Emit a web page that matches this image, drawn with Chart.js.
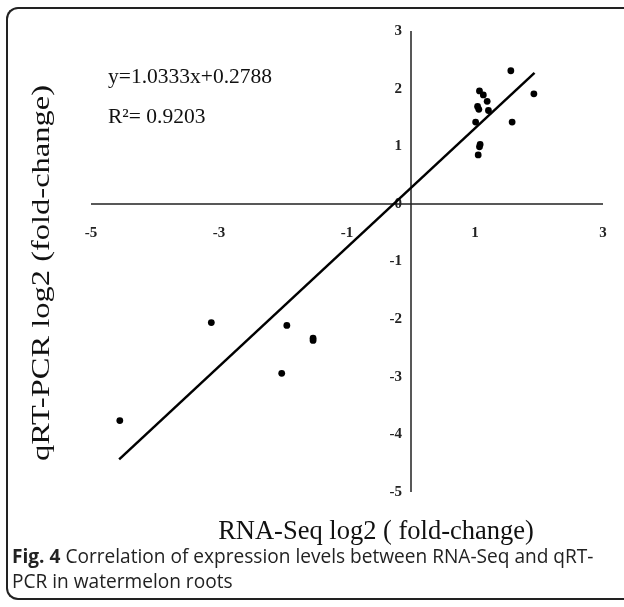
<!DOCTYPE html>
<html>
<head>
<meta charset="utf-8">
<title>Fig. 4</title>
<script src="https://cdn.jsdelivr.net/npm/chart.js"></script>
<style>
  html, body { margin: 0; padding: 0; background: #fff; overflow: hidden; }
  body { width: 624px; height: 607px; position: relative; }
  #frame {
    position: absolute; left: 6px; top: 7px; width: 660px; height: 593px;
    border: 2px solid #222; border-right: none; border-radius: 12px 0 0 12px;
    box-sizing: border-box;
  }
  #chart { position: absolute; left: 0; top: 0; }
  #caption {
    position: absolute; left: 12px; top: 544px; width: 612px;
    font-family: "Open Sans", "Noto Sans", sans-serif; font-size: 19.1px;
    line-height: 25px; color: #222; white-space: nowrap;
  }
  #caption b { font-weight: 700; }
</style>
</head>
<body>
<div id="frame"></div>
<canvas id="chart" width="624" height="607"></canvas>
<div id="caption"><b>Fig. 4</b> Correlation of expression levels between RNA-Seq and qRT-<br>PCR in watermelon roots</div>
<script>
// RNA-Seq log2 fold-change (x) vs qRT-PCR log2 fold-change (y)
const rnaSeq = [-4.55, -3.12, -1.94, -1.53, -1.53, -2.02,
                1.56, 1.92, 1.07, 1.13, 1.19, 1.04, 1.06, 1.21, 1.01, 1.58, 1.08, 1.07, 1.05];
const qrtPcr = [-3.76, -2.06, -2.11, -2.33, -2.37, -2.94,
                2.31, 1.91, 1.96, 1.89, 1.78, 1.69, 1.64, 1.62, 1.42, 1.42, 1.03, 0.99, 0.85];

// trend line from the printed equation, drawn over the visible x span
const trendSlope = 1.0333;
const trendIntercept = 0.2788;
const trendRange = [-4.56, 1.93];

const xTicks = [-5, -3, -1, 1, 3];
const yTicks = [3, 2, 1, 0, -1, -2, -3, -4, -5];

const serif = '"Liberation Serif", "Times New Roman", serif';

const points = rnaSeq.map((x, i) => ({ x, y: qrtPcr[i] }));
const trend = trendRange.map(x => ({ x, y: trendSlope * x + trendIntercept }));

// axes cross at the origin, like the Excel original
const crossAxes = {
  id: 'crossAxes',
  beforeDatasetsDraw(chart) {
    const { ctx, scales: { x, y } } = chart;
    const x0 = x.getPixelForValue(0), y0 = y.getPixelForValue(0);
    ctx.save();
    ctx.strokeStyle = '#222';
    ctx.lineWidth = 1.5;
    ctx.beginPath();
    ctx.moveTo(x.left, y0); ctx.lineTo(x.right, y0);
    ctx.moveTo(x0, y.top); ctx.lineTo(x0, y.bottom);
    ctx.stroke();

    ctx.fillStyle = '#222';
    ctx.font = 'bold 15px ' + serif;
    ctx.textBaseline = 'middle';
    ctx.textAlign = 'center';
    xTicks.forEach(v => ctx.fillText(String(v), x.getPixelForValue(v), y0 + 29));
    ctx.textAlign = 'right';
    yTicks.forEach(v => ctx.fillText(String(v), x0 - 9, y.getPixelForValue(v)));
    ctx.restore();
  },
  afterDraw(chart) {
    const { ctx } = chart;
    ctx.save();
    ctx.fillStyle = '#111';
    ctx.textBaseline = 'middle';

    ctx.font = '21.5px ' + serif;
    ctx.textAlign = 'left';
    ctx.fillText('y=1.0333x+0.2788', 108, 77);
    ctx.fillText('R\u00B2= 0.9203', 108, 117);

    ctx.font = '26.5px ' + serif;
    ctx.textAlign = 'center';
    ctx.fillText('RNA-Seq log2 ( fold-change)', 376, 532);

    // the y title is stretched along its length in the original
    const yTitle = 'qRT-PCR log2 (fold-change)';
    ctx.font = '26px ' + serif;
    const stretch = 376 / ctx.measureText(yTitle).width;
    ctx.translate(42, 273);
    ctx.rotate(-Math.PI / 2);
    ctx.scale(stretch, 1);
    ctx.fillText(yTitle, 0, 0);
    ctx.restore();
  }
};

new Chart(document.getElementById('chart'), {
  type: 'scatter',
  data: {
    datasets: [
      {
        label: 'genes',
        data: points,
        backgroundColor: '#000',
        borderWidth: 0,
        pointRadius: 3.4
      },
      {
        type: 'line',
        label: 'trend',
        data: trend,
        borderColor: '#000',
        borderWidth: 2.5,
        pointRadius: 0,
        fill: false
      }
    ]
  },
  options: {
    responsive: false,
    animation: false,
    layout: { padding: { left: 91, right: 21, top: 31, bottom: 115 } },
    scales: {
      x: { type: 'linear', min: -5, max: 3, display: false },
      y: { type: 'linear', min: -5, max: 3, display: false }
    },
    plugins: { legend: { display: false }, tooltip: { enabled: false } }
  },
  plugins: [crossAxes]
});
</script>
</body>
</html>
